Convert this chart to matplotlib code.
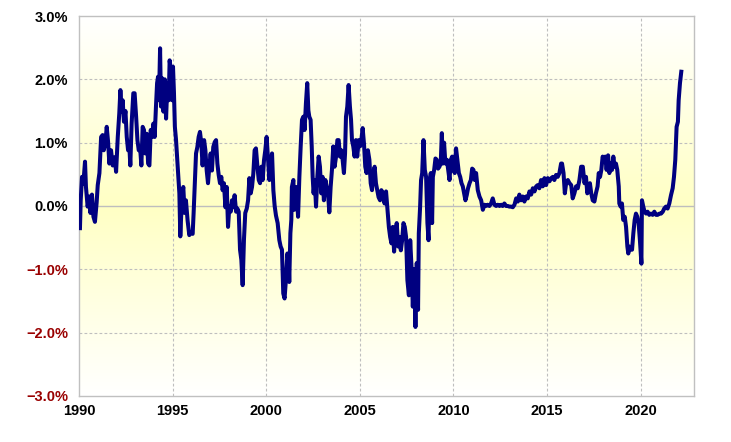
import numpy as np
import matplotlib
matplotlib.use("Agg")
import matplotlib.pyplot as plt
from matplotlib.colors import LinearSegmentedColormap
from matplotlib.ticker import FuncFormatter

# -------------------------
# DATA
# -------------------------
years = [
    1990.05, 1990.09, 1990.16, 1990.23, 1990.32, 1990.37, 1990.46, 1990.55, 1990.61, 1990.69,
    1990.77, 1990.85, 1990.94, 1991.00, 1991.09, 1991.18, 1991.26, 1991.32, 1991.41, 1991.48,
    1991.55, 1991.62, 1991.71, 1991.80, 1991.91, 1991.98, 1992.07, 1992.15, 1992.21, 1992.28,
    1992.33, 1992.40, 1992.48, 1992.55, 1992.62, 1992.69, 1992.74, 1992.81, 1992.90, 1992.97,
    1993.05, 1993.12, 1993.19, 1993.26, 1993.33, 1993.40, 1993.47, 1993.54, 1993.62, 1993.69,
    1993.76, 1993.83, 1993.90, 1993.97, 1994.04, 1994.11, 1994.17, 1994.22, 1994.27, 1994.33,
    1994.38, 1994.43, 1994.51, 1994.58, 1994.65, 1994.72, 1994.79, 1994.84, 1994.91, 1994.97,
    1995.02, 1995.07, 1995.12, 1995.18, 1995.27, 1995.36, 1995.41, 1995.50, 1995.57, 1995.64,
    1995.71, 1995.80, 1995.89, 1995.98, 1996.07, 1996.12, 1996.19, 1996.25, 1996.32, 1996.39,
    1996.46, 1996.53, 1996.60, 1996.68, 1996.75, 1996.82, 1996.89, 1996.96, 1997.03, 1997.10,
    1997.17, 1997.25, 1997.32, 1997.39, 1997.46, 1997.53, 1997.60, 1997.67, 1997.74, 1997.82,
    1997.89, 1997.96, 1998.03, 1998.10, 1998.17, 1998.24, 1998.31, 1998.39, 1998.46, 1998.53,
    1998.60, 1998.67, 1998.74, 1998.81, 1998.88, 1998.96, 1999.03, 1999.10, 1999.17, 1999.24,
    1999.31, 1999.38, 1999.45, 1999.53, 1999.60, 1999.67, 1999.74, 1999.81, 1999.88, 1999.95,
    2000.02, 2000.09, 2000.17, 2000.24, 2000.31, 2000.38, 2000.45, 2000.52, 2000.61, 2000.70,
    2000.77, 2000.84, 2000.91, 2000.98, 2001.05, 2001.13, 2001.20, 2001.23, 2001.29, 2001.34,
    2001.37, 2001.45, 2001.50, 2001.55, 2001.62, 2001.70, 2001.77, 2001.84, 2001.91, 2001.98,
    2002.05, 2002.12, 2002.19, 2002.25, 2002.30, 2002.37, 2002.43, 2002.48, 2002.53, 2002.59,
    2002.66, 2002.73, 2002.80, 2002.87, 2002.94, 2003.01, 2003.08, 2003.16, 2003.23, 2003.30,
    2003.37, 2003.44, 2003.51, 2003.58, 2003.65, 2003.73, 2003.80, 2003.87, 2003.94, 2004.01,
    2004.08, 2004.15, 2004.21, 2004.26, 2004.33, 2004.40, 2004.47, 2004.53, 2004.58, 2004.65,
    2004.72, 2004.79, 2004.86, 2004.94, 2005.01, 2005.08, 2005.15, 2005.22, 2005.29, 2005.36,
    2005.43, 2005.51, 2005.58, 2005.65, 2005.72, 2005.79, 2005.86, 2005.93, 2006.00, 2006.08,
    2006.15, 2006.23, 2006.32, 2006.40, 2006.48, 2006.55, 2006.62, 2006.69, 2006.76, 2006.83,
    2006.90, 2006.97, 2007.05, 2007.12, 2007.19, 2007.26, 2007.33, 2007.40, 2007.47, 2007.54,
    2007.62, 2007.69, 2007.76, 2007.83, 2007.90, 2007.97, 2008.04, 2008.11, 2008.15, 2008.22,
    2008.27, 2008.33, 2008.40, 2008.47, 2008.54, 2008.61, 2008.67, 2008.72, 2008.79, 2008.86,
    2008.90, 2008.97, 2009.04, 2009.11, 2009.18, 2009.25, 2009.32, 2009.38, 2009.43, 2009.50,
    2009.57, 2009.65, 2009.72, 2009.79, 2009.86, 2009.93, 2010.00, 2010.07, 2010.14, 2010.21,
    2010.29, 2010.36, 2010.43, 2010.50, 2010.57, 2010.64, 2010.71, 2010.78, 2010.86, 2010.93,
    2011.00, 2011.07, 2011.14, 2011.21, 2011.30, 2011.39, 2011.48, 2011.57, 2011.66, 2011.74,
    2011.83, 2011.92, 2012.01, 2012.10, 2012.19, 2012.28, 2012.37, 2012.46, 2012.55, 2012.63,
    2012.72, 2012.81, 2012.90, 2012.99, 2013.08, 2013.17, 2013.26, 2013.35, 2013.44, 2013.52,
    2013.61, 2013.70, 2013.79, 2013.88, 2013.97, 2014.06, 2014.15, 2014.24, 2014.33, 2014.42,
    2014.50, 2014.59, 2014.68, 2014.77, 2014.86, 2014.95, 2015.04, 2015.13, 2015.22, 2015.31,
    2015.39, 2015.48, 2015.57, 2015.66, 2015.75, 2015.80, 2015.88, 2015.95, 2016.02, 2016.11,
    2016.20, 2016.29, 2016.37, 2016.46, 2016.55, 2016.64, 2016.73, 2016.82, 2016.91, 2017.00,
    2017.08, 2017.15, 2017.22, 2017.29, 2017.36, 2017.44, 2017.53, 2017.61, 2017.70, 2017.76,
    2017.83, 2017.90, 2017.97, 2018.04, 2018.11, 2018.18, 2018.26, 2018.33, 2018.40, 2018.47,
    2018.54, 2018.61, 2018.68, 2018.75, 2018.83, 2018.86, 2018.93, 2019.00, 2019.07, 2019.15,
    2019.22, 2019.29, 2019.34, 2019.39, 2019.47, 2019.54, 2019.61, 2019.68, 2019.75, 2019.82,
    2019.89, 2019.96, 2020.04, 2020.07, 2020.14, 2020.21, 2020.29, 2020.37, 2020.46, 2020.55,
    2020.64, 2020.73, 2020.82, 2020.91, 2021.00, 2021.09, 2021.18, 2021.26, 2021.35, 2021.44,
    2021.53, 2021.62, 2021.71, 2021.78, 2021.85, 2021.92, 2021.99, 2022.03, 2022.10, 2022.17,
]

spread = [
    -0.35, 0.09, 0.46, 0.35, 0.70, 0.30, -0.01, 0.15, -0.11, 0.18,
    -0.17, -0.25, 0.05, 0.33, 0.52, 1.09, 1.12, 0.88, 1.00, 1.25,
    1.02, 0.67, 0.88, 0.64, 0.77, 0.54, 1.09, 1.46, 1.83, 1.49,
    1.67, 1.33, 1.50, 1.09, 0.88, 0.93, 0.64, 1.30, 1.78, 1.78,
    1.41, 1.04, 0.88, 0.93, 0.64, 1.25, 1.20, 0.83, 1.14, 0.67,
    0.64, 1.20, 1.09, 1.30, 1.09, 1.57, 1.94, 2.04, 1.67, 2.49,
    1.57, 2.02, 1.49, 2.00, 1.38, 1.94, 1.67, 2.30, 2.14, 1.67,
    2.20, 1.80, 1.25, 1.05, 0.62, 0.20, -0.48, 0.15, 0.30, -0.11,
    0.09, -0.23, -0.46, -0.41, -0.44, -0.12, 0.41, 0.83, 0.93, 1.09,
    1.17, 1.00, 0.64, 1.04, 0.88, 0.56, 0.36, 0.62, 0.83, 0.56,
    0.93, 1.01, 1.04, 0.67, 0.49, 0.36, 0.46, 0.25, 0.36, -0.02,
    0.30, -0.33, 0.00, -0.09, 0.09, -0.02, 0.17, -0.09, -0.04, -0.09,
    -0.69, -0.85, -1.25, -0.53, -0.11, -0.04, 0.09, 0.44, 0.20, 0.30,
    0.51, 0.88, 0.91, 0.62, 0.41, 0.36, 0.62, 0.41, 0.72, 0.88,
    1.09, 0.77, 0.41, 0.67, 0.83, 0.25, 0.00, -0.15, -0.27, -0.54,
    -0.64, -0.69, -1.38, -1.46, -1.17, -0.75, -0.91, -1.20, -0.43, -0.22,
    0.30, 0.41, -0.06, 0.20, 0.30, -0.17, 0.46, 0.94, 1.36, 1.41,
    1.20, 1.62, 1.94, 1.51, 1.41, 1.36, 0.94, 0.46, 0.20, 0.41,
    -0.01, 0.46, 0.78, 0.62, 0.20, 0.46, 0.09, 0.41, 0.30, 0.20,
    -0.10, 0.30, 0.57, 0.94, 0.62, 0.78, 1.04, 1.04, 0.78, 0.88,
    0.73, 0.52, 0.83, 1.41, 1.57, 1.91, 1.57, 1.36, 1.04, 0.94,
    0.78, 1.04, 0.78, 1.04, 0.94, 1.04, 1.23, 0.99, 0.62, 0.52,
    0.88, 0.73, 0.36, 0.25, 0.52, 0.62, 0.36, 0.25, 0.14, 0.09,
    0.25, 0.20, 0.04, 0.23, -0.06, -0.33, -0.49, -0.59, -0.33, -0.72,
    -0.43, -0.27, -0.64, -0.49, -0.70, -0.54, -0.27, -0.33, -0.49, -1.17,
    -1.41, -0.54, -0.96, -1.59, -1.00, -1.91, -0.90, -1.64, -0.43, -0.01,
    0.41, 0.52, 1.04, 0.57, 0.46, -0.27, -0.54, 0.36, 0.52, -0.27,
    0.46, 0.57, 0.75, 0.73, 0.59, 0.62, 0.67, 1.15, 0.67, 1.00,
    0.67, 0.73, 0.57, 0.41, 0.73, 0.78, 0.57, 0.52, 0.91, 0.73,
    0.52, 0.46, 0.36, 0.31, 0.20, 0.09, 0.17, 0.28, 0.36, 0.41,
    0.59, 0.57, 0.41, 0.52, 0.25, 0.15, 0.09, -0.06, 0.02, 0.00,
    0.02, 0.00, 0.04, 0.12, 0.02, 0.00, 0.02, 0.00, 0.02, 0.00,
    0.04, 0.00, 0.00, -0.01, -0.01, -0.02, 0.02, 0.12, 0.07, 0.18,
    0.09, 0.15, 0.07, 0.15, 0.12, 0.23, 0.18, 0.28, 0.23, 0.31,
    0.33, 0.28, 0.41, 0.31, 0.44, 0.33, 0.44, 0.39, 0.44, 0.46,
    0.41, 0.49, 0.46, 0.52, 0.67, 0.67, 0.52, 0.20, 0.36, 0.41,
    0.36, 0.33, 0.12, 0.20, 0.31, 0.28, 0.41, 0.62, 0.62, 0.36,
    0.46, 0.20, 0.31, 0.36, 0.20, 0.09, 0.07, 0.20, 0.31, 0.52,
    0.46, 0.57, 0.78, 0.73, 0.78, 0.57, 0.80, 0.52, 0.67, 0.57,
    0.78, 0.62, 0.67, 0.57, 0.31, 0.04, -0.01, 0.04, -0.22, -0.17,
    -0.33, -0.64, -0.75, -0.64, -0.69, -0.69, -0.43, -0.22, -0.12, -0.17,
    -0.27, -0.54, -0.91, 0.09, -0.01, -0.09, -0.12, -0.09, -0.14, -0.12,
    -0.14, -0.09, -0.14, -0.14, -0.12, -0.12, -0.09, -0.04, -0.01, -0.04,
    0.04, 0.17, 0.28, 0.46, 0.73, 1.25, 1.33, 1.67, 1.94, 2.12,
]

x_ticks = [1990, 1995, 2000, 2005, 2010, 2015, 2020]
y_ticks = [-3, -2, -1, 0, 1, 2, 3]

# -------------------------
# FIGURE
# -------------------------
fig = plt.figure(figsize=(7.31, 4.42), dpi=100)
ax = fig.add_axes([0.1081, 0.1041, 0.8413, 0.8597])

x_min, x_max = 1990, 2022.85
y_min, y_max = -3, 3

# background: white -> pale yellow at zero -> white
bg = LinearSegmentedColormap.from_list("bg", ["#FFFFFF", "#FFFFC4", "#FFFFFF"])
grad = np.linspace(0, 1, 256).reshape(-1, 1)
ax.imshow(grad, cmap=bg, aspect="auto", extent=[x_min, x_max, y_min, y_max],
          origin="lower", zorder=0, interpolation="bilinear")

ax.plot(years, spread, color="#000080", linewidth=2.9, solid_joinstyle="round", zorder=3)

ax.set_xlim(x_min, x_max)
ax.set_ylim(y_min, y_max)
ax.set_xticks(x_ticks)
ax.set_yticks(y_ticks)

# grid
for x in x_ticks[1:]:
    ax.axvline(x, color="#BEBEBE", linestyle=(0, (2.5, 2)), linewidth=0.8, zorder=1)
for y in y_ticks[1:-1]:
    if y == 0:
        ax.axhline(y, color="#BEBEBE", linestyle="-", linewidth=1.0, zorder=1)
    else:
        ax.axhline(y, color="#BEBEBE", linestyle=(0, (2.5, 2)), linewidth=0.8, zorder=1)

for s in ax.spines.values():
    s.set_color("#C0C0C0")
    s.set_linewidth(1.0)

ax.tick_params(length=0)
ax.tick_params(axis="y", pad=8)
ax.tick_params(axis="x", pad=6)

ax.yaxis.set_major_formatter(FuncFormatter(lambda v, p: f"{v:.1f}%".replace("-", "\u2212")))
for lab in ax.get_xticklabels() + ax.get_yticklabels():
    lab.set_fontfamily("Liberation Sans")
    lab.set_fontweight("bold")
    lab.set_fontsize(10.5)

fig.canvas.draw()
for lab, v in zip(ax.get_yticklabels(), y_ticks):
    lab.set_color("#990000" if v < 0 else "#000000")

fig.savefig("out.png", dpi=100, facecolor="white")
